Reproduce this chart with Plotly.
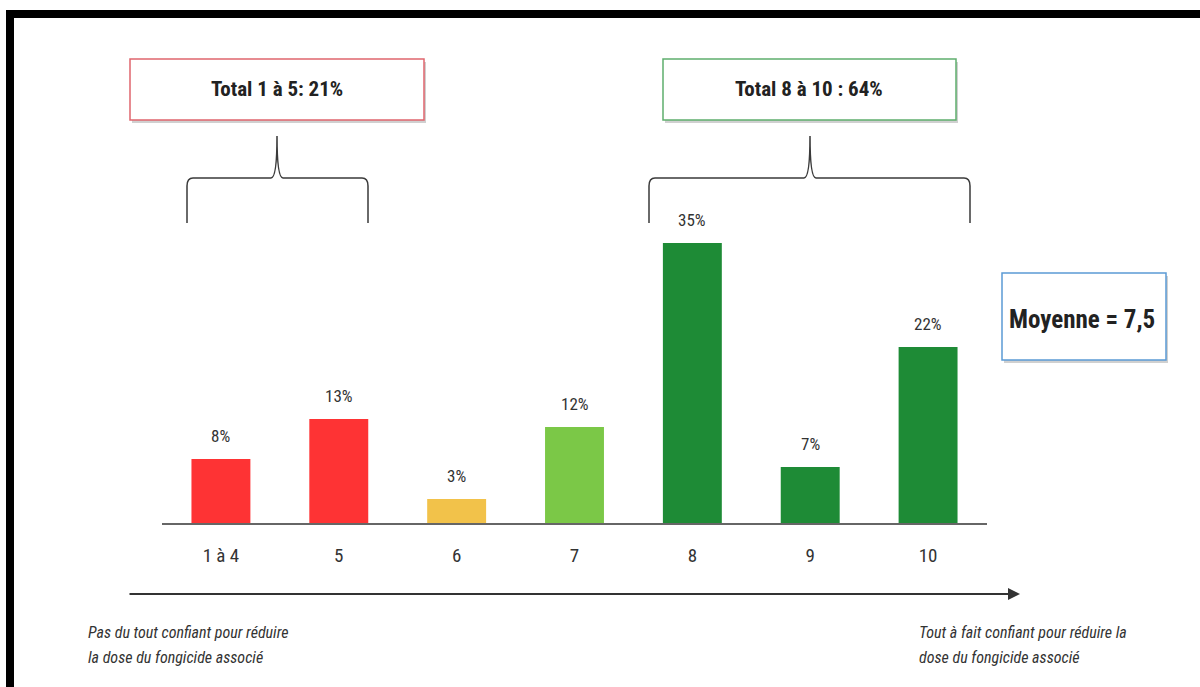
import plotly.graph_objects as go

# ---- data ----
categories = ["1 à 4", "5", "6", "7", "8", "9", "10"]
values = [8, 13, 3, 12, 35, 7, 22]
value_labels = ["8%", "13%", "3%", "12%", "35%", "7%", "22%"]
bar_colors = ["#FE3334", "#FE3334", "#F2C24A", "#7BC847", "#1E8B36", "#1E8B36", "#1E8B36"]
box_texts = ["Total 1 à 5: 21%", "Total 8 à 10 : 64%", "Moyenne = 7,5"]
left_note = ["Pas du tout confiant pour réduire", "la dose du fongicide associé"]
right_note = ["Tout à fait confiant pour réduire la", "dose du fongicide associé"]

W, H = 1200, 687
NARROW = "Liberation Sans Narrow, Arial Narrow, Roboto Condensed, Liberation Sans, sans-serif"


def px(x):
    return x / W


def py(y):
    return 1 - y / H


fig = go.Figure()
fig.add_trace(go.Bar(
    x=categories, y=values,
    marker=dict(color=bar_colors, line=dict(width=0)),
    hoverinfo="skip",
))

# value labels above bars (category index positions)
for i, (v, t) in enumerate(zip(values, value_labels)):
    fig.add_annotation(x=i, y=v, xref="x", yref="y", text=t, showarrow=False,
                       xanchor="center", yanchor="bottom", yshift=11,
                       font=dict(family=NARROW, size=17, color="#333333"))

shapes = []
# black frame (top and left)
shapes.append(dict(type="rect", xref="paper", yref="paper",
                   x0=px(6), x1=px(1200), y0=py(18), y1=py(10),
                   fillcolor="black", line=dict(width=0)))
shapes.append(dict(type="rect", xref="paper", yref="paper",
                   x0=px(6), x1=px(14), y0=py(687), y1=py(10),
                   fillcolor="black", line=dict(width=0)))


def box(x0, y0, x1, y1, color):
    # shadow
    shapes.append(dict(type="rect", xref="paper", yref="paper",
                       x0=px(x0 + 2), x1=px(x1 + 2), y0=py(y1 + 3), y1=py(y0 + 3),
                       fillcolor="rgba(120,120,120,0.35)", line=dict(width=0), layer="below"))
    shapes.append(dict(type="rect", xref="paper", yref="paper",
                       x0=px(x0), x1=px(x1), y0=py(y1), y1=py(y0),
                       fillcolor="white", line=dict(color=color, width=1.5), layer="below"))


box(130, 59, 424, 120, "#E0666D")
box(663, 59, 956, 120, "#5FAE6E")
box(1002, 273, 1166, 360, "#5B9BD5")


def brace(xl, xr, xt, ytop=136, yh=178, yb=223):
    p = (f"M {px(xl)},{py(yb)} L {px(xl)},{py(yh + 8)} "
         f"Q {px(xl)},{py(yh)} {px(xl + 6)},{py(yh)} "
         f"L {px(xt - 6)},{py(yh)} Q {px(xt)},{py(yh)} {px(xt)},{py(ytop)} "
         f"Q {px(xt)},{py(yh)} {px(xt + 6)},{py(yh)} "
         f"L {px(xr - 6)},{py(yh)} Q {px(xr)},{py(yh)} {px(xr)},{py(yh + 8)} "
         f"L {px(xr)},{py(yb)}")
    shapes.append(dict(type="path", xref="paper", yref="paper", path=p,
                       line=dict(color="#3a3a3a", width=1.5)))


brace(187, 368, 277)
brace(649, 970, 810)

# box texts
fig.add_annotation(x=px(277), y=py(89), xref="paper", yref="paper", text=f"<b>{box_texts[0]}</b>",
                   showarrow=False, xanchor="center", yanchor="middle",
                   font=dict(family=NARROW, size=21, color="#222222"))
fig.add_annotation(x=px(809), y=py(89), xref="paper", yref="paper", text=f"<b>{box_texts[1]}</b>",
                   showarrow=False, xanchor="center", yanchor="middle",
                   font=dict(family=NARROW, size=21, color="#222222"))
fig.add_annotation(x=px(1082), y=py(319), xref="paper", yref="paper", text=f"<b>{box_texts[2]}</b>",
                   showarrow=False, xanchor="center", yanchor="middle",
                   font=dict(family=NARROW, size=25, color="#222222"))

# long arrow
fig.add_annotation(x=px(1020), y=py(594), xref="paper", yref="paper", text="",
                   showarrow=True, ax=-(1020 - 128), ay=0, arrowhead=2, arrowsize=1.2,
                   arrowwidth=2, arrowcolor="#333333", standoff=0)

# footer notes
for i, line in enumerate(left_note):
    fig.add_annotation(x=px(86), y=py(632 + 25 * i), xref="paper", yref="paper", text=f"<i>{line}</i>",
                       showarrow=False, xanchor="left", yanchor="middle",
                       font=dict(family=NARROW, size=16, color="#333333"))
for i, line in enumerate(right_note):
    fig.add_annotation(x=px(917), y=py(632 + 25 * i), xref="paper", yref="paper", text=f"<i>{line}</i>",
                       showarrow=False, xanchor="left", yanchor="middle",
                       font=dict(family=NARROW, size=16, color="#333333"))

fig.update_layout(
    width=W, height=H,
    margin=dict(l=0, r=0, t=0, b=0),
    paper_bgcolor="white", plot_bgcolor="white",
    showlegend=False,
    bargap=0.5,
    shapes=shapes,
    xaxis=dict(domain=[px(162), px(987)], range=[-0.5, 6.5], type="category",
               showline=True, linecolor="#666666", linewidth=1.5, showgrid=False,
               zeroline=False, ticks="", ticklabelstandoff=14,
               tickfont=dict(family=NARROW, size=19, color="#333333"), fixedrange=True),
    yaxis=dict(domain=[py(523), py(203)], range=[0, 40], visible=False,
               showgrid=False, zeroline=False, fixedrange=True),
)

fig.write_html("out.html", config={"displayModeBar": False},
               post_script="document.body.style.margin='0';document.body.style.overflow='hidden';")
